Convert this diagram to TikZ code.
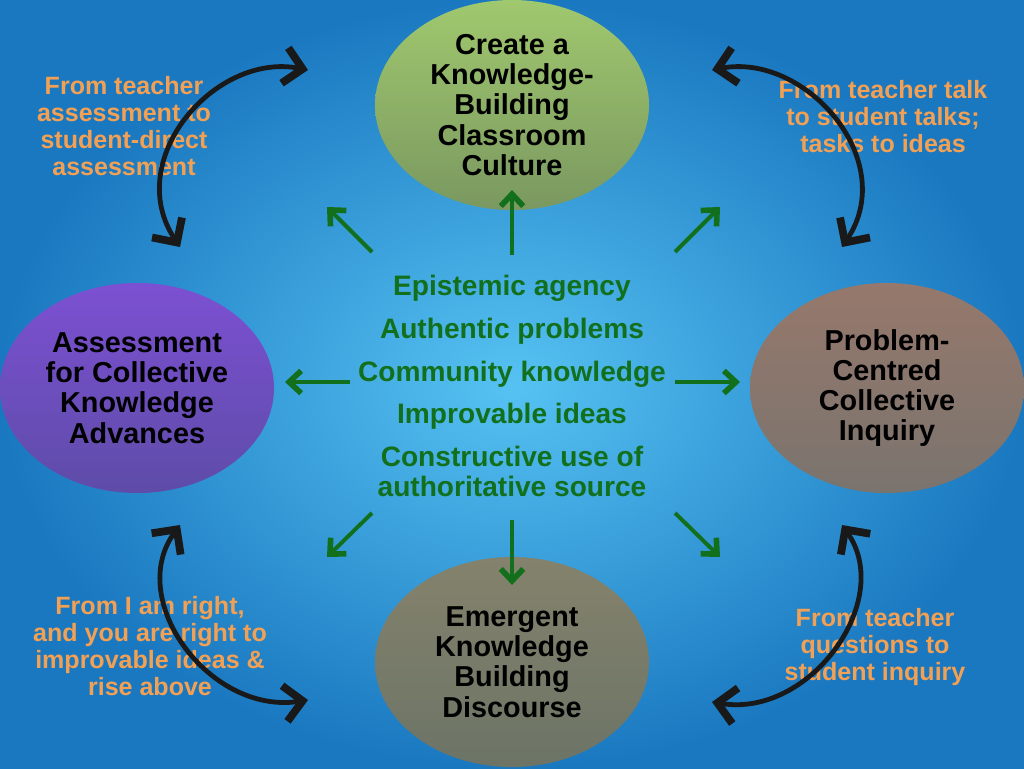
\documentclass[tikz,border=0pt]{standalone}
\usepackage{fontspec}
\setmainfont{Liberation Sans}
\usetikzlibrary{shapes.geometric,arrows.meta}
\definecolor{bgin}{RGB}{86,194,242}
\definecolor{bgout}{RGB}{26,120,192}
\definecolor{kbgreen}{RGB}{18,112,28}
\definecolor{kborange}{RGB}{242,160,84}
\definecolor{gtop}{RGB}{160,200,110}
\definecolor{gbot}{RGB}{122,152,96}
\definecolor{ptop}{RGB}{124,80,210}
\definecolor{pbot}{RGB}{94,76,168}
\definecolor{rtop}{RGB}{150,120,108}
\definecolor{rbot}{RGB}{122,116,110}
\definecolor{btop}{RGB}{132,130,108}
\definecolor{bbot}{RGB}{108,116,102}
\begin{document}
\begin{tikzpicture}[x=0.25mm,y=-0.25mm,
  topic/.style={ellipse, minimum width=68.5mm, minimum height=52.5mm, inner sep=0pt,
    align=center, text=black, font=\bfseries\fontsize{20.5}{21.5}\selectfont},
  note/.style={align=center, text=kborange, inner sep=0pt,
    font=\bfseries\fontsize{17.8}{19.2}\selectfont},
  core/.style={align=center, text=kbgreen, inner sep=0pt,
    font=\bfseries\fontsize{20}{21.3}\selectfont},
  garrow/.style={draw=kbgreen, line width=2.8pt,
    -{Straight Barb[length=3mm,width=5.6mm,line width=4pt]}},
  barrow/.style={draw=black!90, line width=3.4pt, line cap=round,
    {Straight Barb[length=4.5mm,width=9mm,line width=5.5pt]}-{Straight Barb[length=4.5mm,width=9mm,line width=5.5pt]}}
]
\useasboundingbox (0,0) rectangle (1024,768);
\shade[inner color=bgin, outer color=bgout] (0,0) rectangle (1024,768);

% topic ellipses
\node[topic, top color=gtop, bottom color=gbot] (top) at (512,105)
  {Create a\\Knowledge-\\Building\\Classroom\\Culture};
\node[topic, top color=ptop, bottom color=pbot] (left) at (137,388)
  {Assessment\\for Collective\\Knowledge\\Advances};
\node[topic, top color=rtop, bottom color=rbot] (right) at (887,388)
  {Problem-\\Centred\\Collective\\Inquiry};
\node[topic, top color=btop, bottom color=bbot] (bottom) at (512,662)
  {Emergent\\Knowledge\\Building\\Discourse};

% core principles
\node[core] (core) at (512,386)
  {Epistemic agency\\[9pt]Authentic problems\\[9pt]Community knowledge\\[9pt]Improvable ideas\\[9pt]Constructive use of\\authoritative source};

% notes
\node[note] (ntl) at (124,126) {From teacher\\assessment to\\student-direct\\assessment};
\node[note] (ntr) at (883,117) {From teacher talk\\to student talks;\\tasks to ideas};
\node[note] (nbl) at (150,646) {From I am right,\\and you are right to\\improvable ideas \&\\rise above};
\node[note] (nbr) at (875,647) {From teacher\\questions to\\student inquiry};

% green arrow end points
\coordinate (gN0) at (512,255); \coordinate (gN1) at (512,190);
\coordinate (gNW0) at (372,252); \coordinate (gNW1) at (327,207);
\coordinate (gNE0) at (675,252); \coordinate (gNE1) at (720,207);
\coordinate (gW0) at (350,382); \coordinate (gW1) at (285,382);
\coordinate (gE0) at (675,382); \coordinate (gE1) at (740,382);
\coordinate (gSW0) at (372,513); \coordinate (gSW1) at (327,557);
\coordinate (gS0) at (512,520); \coordinate (gS1) at (512,585);
\coordinate (gSE0) at (675,513); \coordinate (gSE1) at (720,557);
\foreach \d in {N,NW,NE,W,E,SW,S,SE} \draw[garrow] (g\d0) -- (g\d1);

% black curved double arrows
\coordinate (tlA) at (308,70);  \coordinate (tlB) at (180,247);
\coordinate (trA) at (712,70);  \coordinate (trB) at (842,247);
\coordinate (blA) at (180,525); \coordinate (blB) at (308,700);
\coordinate (brA) at (842,525); \coordinate (brB) at (712,702);
\draw[barrow] (tlA) .. controls (215,52) and (122,160) .. (tlB);
\draw[barrow] (trA) .. controls (805,52) and (900,160) .. (trB);
\draw[barrow] (blA) .. controls (125,600) and (210,715) .. (blB);
\draw[barrow] (brA) .. controls (895,600) and (810,718) .. (brB);
\end{tikzpicture}
\end{document}
